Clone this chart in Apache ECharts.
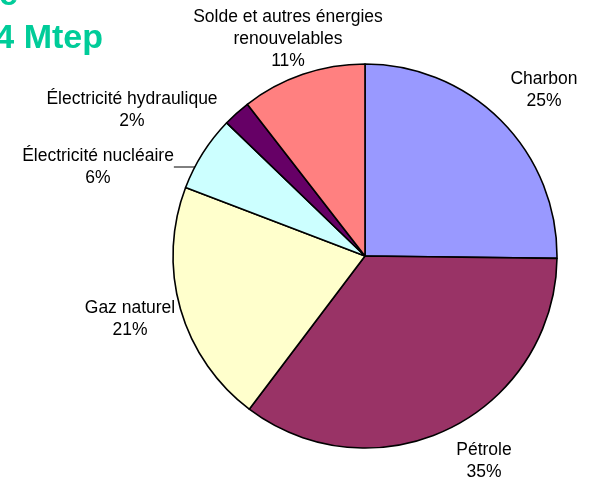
<!DOCTYPE html>
<html>
<head>
<meta charset="utf-8">
<script src="https://cdn.jsdelivr.net/npm/echarts@6/dist/echarts.min.js"></script>
<style>
  html, body { margin: 0; padding: 0; background: #fff; }
  #chart { width: 590px; height: 477px; }
</style>
</head>
<body>
<div id="chart"></div>
<script>
// données (parts en %)
const names = ['Charbon', 'Pétrole', 'Gaz naturel', 'Électricité nucléaire', 'Électricité hydraulique', 'Solde et autres énergies\nrenouvelables']
const shares = [25.2, 35.1, 20.5, 6.4, 2.3, 10.5]
const colors = ['#9999FF', '#993366', '#FFFFCC', '#CCFFFF', '#660066', '#FF8080']

// position des étiquettes (centre du bloc de texte)
const labelPos = [[544, 90], [484, 461], [130, 319], [98, 167], [132, 110], [288, 39]]
const leader = [false, false, false, true, false, false]

const font = 'Arial, "Liberation Sans", sans-serif'
const c = echarts.init(document.getElementById('chart'))

c.setOption({
  animation: false,
  graphic: [
    { type: 'text', x: 18, y: -21,
      style: { text: "Consommation mondiale d'énergie", align: 'right', verticalAlign: 'top',
        font: 'bold 34px ' + font, fill: '#00CC99' } },
    { type: 'text', x: 103, y: 22,
      style: { text: 'en 2004 : 11 224 Mtep', align: 'right', verticalAlign: 'top',
        font: 'bold 34px ' + font, fill: '#00CC99' } }
  ],
  series: [{
    type: 'pie',
    center: [365, 256],
    radius: 192,
    startAngle: 90,
    clockwise: true,
    avoidLabelOverlap: false,
    itemStyle: { borderColor: '#000', borderWidth: 1.6 },
    label: {
      show: true,
      position: 'outside',
      color: '#000',
      fontFamily: font,
      fontSize: 17.5,
      lineHeight: 22,
      align: 'center',
      formatter: p => p.name + '\n' + Math.round(p.value) + '%'
    },
    labelLine: { show: false, lineStyle: { color: '#000', width: 1 } },
    labelLayout: p => ({
      x: labelPos[p.dataIndex][0],
      y: labelPos[p.dataIndex][1],
      align: 'center',
      verticalAlign: 'middle'
    }),
    emphasis: { disabled: true },
    data: names.map((n, i) => ({
      name: n,
      value: shares[i],
      itemStyle: { color: colors[i] },
      labelLine: { show: leader[i] }
    }))
  }]
})
</script>
</body>
</html>
